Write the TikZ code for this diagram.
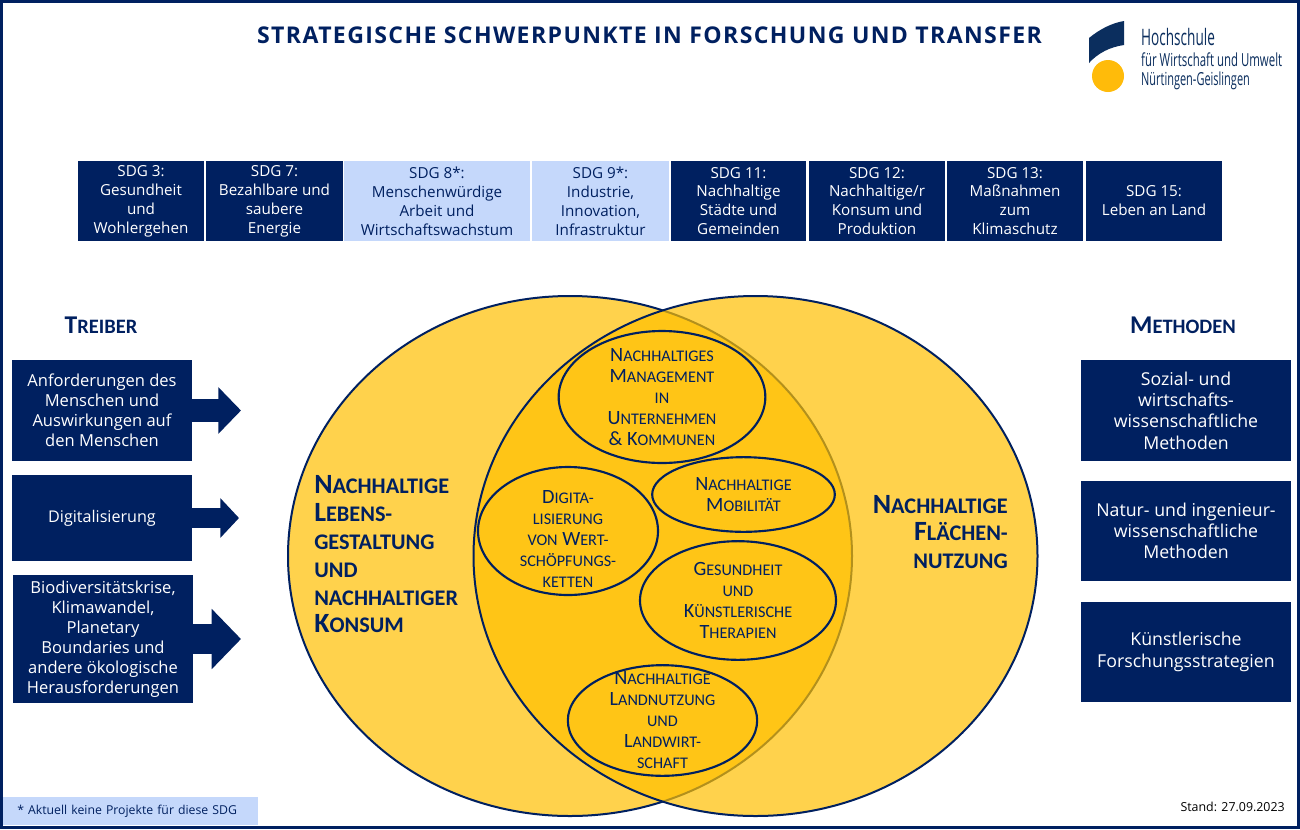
\documentclass[tikz,border=0pt]{standalone}
\usepackage{fontspec}
\setmainfont{Open Sans}
\newfontfamily\capsfont{Carlito}
\usetikzlibrary{arrows.meta,shapes.geometric}
\definecolor{navy}{HTML}{002060}
\definecolor{paleblue}{HTML}{C5D8FB}
\definecolor{sunny}{HTML}{FFC000}
\definecolor{logoblue}{HTML}{0B2E5E}
\definecolor{logoyellow}{HTML}{FFBB0A}
\makeatletter
\newcommand{\lo}[1]{{\fontsize{\fpeval{.8*\f@size}}{\baselineskip}\selectfont\MakeUppercase{#1}}}
\makeatother
\tikzset{
  sdgbox/.style={fill=navy,text=white,minimum height=60pt,inner sep=0pt,align=center,font=\fontsize{11.4}{14.2}\selectfont},
  sdgpale/.style={sdgbox,fill=paleblue,text=navy},
  sidebox/.style={fill=navy,text=white,inner sep=0pt,align=center,font=\fontsize{12.4}{15}\selectfont},
  methodbox/.style={sidebox,minimum width=157.5pt,minimum height=75pt,font=\fontsize{13.3}{16}\selectfont},
  flowarrow/.style 2 args={draw=navy,-{Triangle[length=#1,width=#2]}},
  bigset/.style={draw=navy,line width=1.5pt,fill=sunny,fill opacity=.7,draw opacity=1,text opacity=1,ellipse,inner sep=0pt,minimum width=423pt,minimum height=390pt},
  topic/.style={draw=navy,line width=1.6pt,ellipse,inner sep=0pt},
  topictext/.style={text=navy,align=center,inner sep=0pt,font=\fontsize{15.2}{15.6}\capsfont},
  settext/.style={text=navy,inner sep=0pt,font=\fontsize{20.9}{20.85}\capsfont\bfseries},
  heading/.style={text=navy,inner sep=0pt,font=\fontsize{19.2}{20}\capsfont\bfseries},
  logotext/.style={anchor=west,text=logoblue,inner sep=0pt,transform shape}
}

\begin{document}
\begin{tikzpicture}[x=0.75pt,y=-0.75pt]
\useasboundingbox (0,0) rectangle (1300,829);
\fill[white] (0,0) rectangle (1300,829);
\draw[navy,line width=2pt] (1.5,1.5) rectangle (1298.5,827.5);

\node[text=navy,inner sep=0pt,font=\fontsize{17.3}{20}\selectfont\bfseries] (title) at (649.5,35) {\addfontfeature{LetterSpace=6}STRATEGISCHE SCHWERPUNKTE IN FORSCHUNG UND TRANSFER};

% logo
\fill[logoblue] (1089,38) .. controls (1100,29) and (1112,23) .. (1124,21) -- (1124,45) .. controls (1110,47) and (1098,53) .. (1089,63) -- cycle;
\fill[logoyellow] (1108,76) circle (16);
\node[logotext,xscale=.6,font=\fontsize{17}{19}\selectfont] (hfwu1) at (1141,37) {Hochschule};
\node[logotext,xscale=.635,font=\fontsize{13.5}{15}\selectfont] (hfwu2) at (1141,60) {für Wirtschaft und Umwelt};
\node[logotext,xscale=.61,font=\fontsize{13.5}{15}\selectfont] (hfwu3) at (1141,81) {Nürtingen-Geislingen};

\node[sdgbox,minimum width=94.5pt] (sdg3) at (141,201) {SDG 3:\\Gesundheit\\und\\Wohlergehen};
\node[sdgbox,minimum width=102.75pt] (sdg7) at (274.5,201) {SDG 7:\\Bezahlbare und\\saubere\\Energie};
\node[sdgpale,minimum width=139.5pt] (sdg8) at (437,201) {SDG 8*:\\Menschenwürdige\\Arbeit und\\Wirtschaftswachstum};
\node[sdgpale,minimum width=102.75pt] (sdg9) at (600.5,201) {SDG 9*:\\Industrie,\\Innovation,\\Infrastruktur};
\node[sdgbox,minimum width=101.25pt] (sdg11) at (738.5,201) {SDG 11:\\Nachhaltige\\Städte und\\Gemeinden};
\node[sdgbox,minimum width=102pt] (sdg12) at (877,201) {SDG 12:\\Nachhaltige/r\\Konsum und\\Produktion};
\node[sdgbox,minimum width=102pt] (sdg13) at (1015,201) {SDG 13:\\Maßnahmen\\zum\\Klimaschutz};
\node[sdgbox,minimum width=102pt] (sdg15) at (1154,201) {SDG 15:\\Leben an Land};

\node[heading] (treiber) at (101,325) {T\lo{reiber}};
\node[heading] (methoden) at (1183,325) {M\lo{ethoden}};

\node[sidebox,minimum width=135pt,minimum height=75.75pt] (drv1) at (102,410.5) {Anforderungen des\\Menschen und\\Auswirkungen auf\\den Menschen};
\node[sidebox,minimum width=135pt,minimum height=64.5pt,font=\fontsize{12.1}{15}\selectfont] (drv2) at (102,518) {Digitalisierung};
\node[sidebox,minimum width=135pt,minimum height=96pt] (drv3) at (103,639) {Biodiversitätskrise,\\Klimawandel,\\Planetary\\Boundaries und\\andere ökologische\\Herausforderungen};
\coordinate (drv1tip) at (241,410.5);
\coordinate (drv2tip) at (239,518);
\coordinate (drv3tip) at (241,639);
\draw[flowarrow={17pt}{34pt},line width=17pt] (drv1.east) -- (drv1tip);
\draw[flowarrow={14pt}{29pt},line width=15pt] (drv2.east) -- (drv2tip);
\draw[flowarrow={22pt}{44pt},line width=22pt] (drv3.east) -- (drv3tip);

\node[methodbox,minimum height=75.75pt] (mth1) at (1186,410.5) {Sozial- und\\wirtschafts-\\wissenschaftliche\\Methoden};
\node[methodbox] (mth2) at (1186,531) {Natur- und ingenieur-\\wissenschaftliche\\Methoden};
\node[methodbox] (mth3) at (1186,652) {Künstlerische\\Forschungsstrategien};

\node[bigset] (konsum) at (570,556) {};
\node[bigset] (flaeche) at (755.5,556) {};

\node[settext,anchor=west,align=left] (konsumtext) at (314,554.5) {N\lo{achhaltige}\\L\lo{ebens-}\\\lo{gestaltung}\\\lo{und}\\\lo{nachhaltiger}\\K\lo{onsum}};
\node[settext,anchor=east,align=right] (flaechetext) at (1008,532) {N\lo{achhaltige}\\F\lo{lächen-}\\\lo{nutzung}};

\node[topic,minimum width=155pt,minimum height=99pt] (mgmt) at (662,397) {};
\node[topictext] (mgmttext) at (662,397) {N\lo{achhaltiges}\\M\lo{anagement}\\\lo{in}\\U\lo{nternehmen}\\\& K\lo{ommunen}};
\node[topic,minimum width=137pt,minimum height=56pt] (mobil) at (743.5,494.5) {};
\node[topictext] (mobiltext) at (743.5,494.5) {N\lo{achhaltige}\\M\lo{obilität}};
\node[topic,minimum width=135pt,minimum height=96pt] (digital) at (568,531) {};
\node[topictext] (digitaltext) at (568,539) {D\lo{igita-}\\\lo{lisierung}\\\lo{von} W\lo{ert-}\\\lo{schöpfungs-}\\\lo{ketten}};
\node[topic,minimum width=147pt,minimum height=89pt] (gesund) at (738,600.5) {};
\node[topictext] (gesundtext) at (738,600.5) {G\lo{esundheit}\\\lo{und}\\K\lo{ünstlerische}\\T\lo{herapien}};
\node[topic,minimum width=142pt,minimum height=83pt] (land) at (662.5,720.5) {};
\node[topictext] (landtext) at (662.5,720) {N\lo{achhaltige}\\L\lo{andnutzung}\\\lo{und}\\L\lo{andwirt-}\\\lo{schaft}};

\node[fill=paleblue,text=navy,anchor=west,align=left,inner ysep=0pt,inner xsep=10.5pt,text width=170pt,minimum height=21pt,font=\fontsize{9.2}{11}\selectfont] (hinweis) at (3,811) {* Aktuell keine Projekte für diese SDG};
\node[anchor=east,inner sep=0pt,font=\fontsize{9.3}{10}\selectfont] (stand) at (1285,807) {Stand: 27.09.2023};
\end{tikzpicture}
\end{document}
